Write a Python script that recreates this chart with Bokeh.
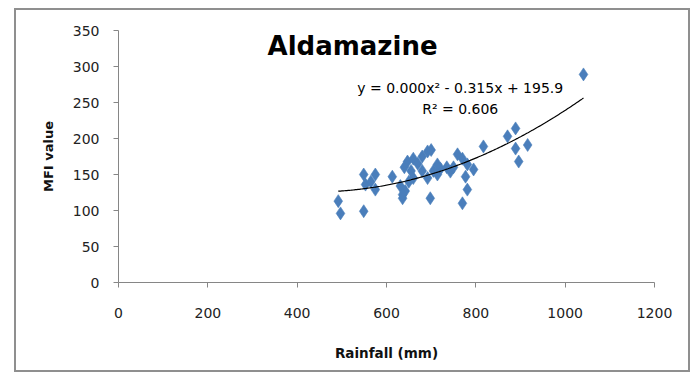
import numpy as np
from bokeh.plotting import figure
from bokeh.layouts import row, column
from bokeh.models import Label, ColumnDataSource, FixedTicker, Spacer
from bokeh.embed import file_html
from bokeh.resources import INLINE

# Data (Rainfall mm, MFI value)
rainfall = [492, 497, 549, 549, 575, 553, 575, 565, 613, 636, 631, 642, 636,
            647, 660, 640, 655, 670, 680, 692, 700, 698, 692, 705, 714, 721,
            714, 735, 743, 759, 770, 777, 781, 770, 795, 781, 817, 871, 889,
            889, 916, 896, 1041, 660, 650, 750, 680]
mfi = [113, 96, 99, 150, 150, 136, 129, 140, 147, 117, 134, 127, 122,
       168, 172, 160, 155, 165, 175, 182, 184, 117, 145, 155, 150, 158,
       164, 160, 154, 178, 172, 147, 129, 110, 157, 164, 189, 203, 214,
       186, 191, 168, 289, 145, 140, 160, 155]
x_ticks = [0, 200, 400, 600, 800, 1000, 1200]
y_ticks = [0, 50, 100, 150, 200, 250, 300, 350]
title_text = "Aldamazine"
eq_text = "y = 0.000x\u00b2 - 0.315x + 195.9"
r2_text = "R\u00b2 = 0.606"
x_label = "Rainfall (mm)"
y_label = "MFI value"

FONT = "DejaVu Sans"

p = figure(width=676, height=364, output_backend="svg", toolbar_location=None,
           x_range=(0, 1200), y_range=(0, 350),
           min_border_left=102, min_border_right=38,
           min_border_top=20, min_border_bottom=92)
p.styles = {"border": "2px solid #8f8f8f"}
p.outline_line_color = None
p.xgrid.visible = False
p.ygrid.visible = False
p.background_fill_color = "white"
p.border_fill_color = "white"

for ax, ticks in ((p.xaxis[0], x_ticks), (p.yaxis[0], y_ticks)):
    ax.ticker = FixedTicker(ticks=ticks)
    ax.axis_line_color = "#868686"
    ax.major_tick_line_color = "#868686"
    ax.major_tick_out = 5
    ax.major_tick_in = 0
    ax.minor_tick_line_color = None
    ax.major_label_text_font = FONT
    ax.major_label_text_font_size = "14px"
    ax.major_label_text_color = "#222222"
    ax.axis_label_text_font = FONT
    ax.axis_label_text_font_style = "bold"
    ax.axis_label_text_color = "#111111"

p.xaxis.axis_label = x_label
p.yaxis.axis_label = y_label
p.xaxis.axis_label_text_font_size = "13.5px"
p.yaxis.axis_label_text_font_size = "13px"
p.xaxis.major_label_standoff = 20
p.xaxis.axis_label_standoff = 24
p.yaxis.major_label_standoff = 14
p.yaxis.axis_label_standoff = 14

src = ColumnDataSource(dict(x=rainfall, y=mfi))
p.scatter("x", "y", source=src, marker="diamond", size=13,
          fill_color="#4a7ebb", line_color="#4a7ebb", line_alpha=0.6)

# polynomial (order 2) trendline fitted from the data, as in the original
coef = np.polyfit(rainfall, mfi, 2)
xs = np.linspace(min(rainfall), max(rainfall), 200)
p.line(xs, np.polyval(coef, xs), line_color="black", line_width=1.2)

p.add_layout(Label(x=524, y=328, text=title_text, text_font=FONT,
                   text_font_size="26px", text_font_style="bold",
                   text_align="center", text_baseline="middle", text_color="#000000"))
p.add_layout(Label(x=765, y=270, text=eq_text, text_font=FONT,
                   text_font_size="14px", text_align="center",
                   text_baseline="middle", text_color="#000000"))
p.add_layout(Label(x=765, y=241, text=r2_text, text_font=FONT,
                   text_font_size="14px", text_align="center",
                   text_baseline="middle", text_color="#000000"))

layout = column(Spacer(height=8), row(Spacer(width=14), p))
open("out.html", "w").write(file_html(layout, INLINE))
